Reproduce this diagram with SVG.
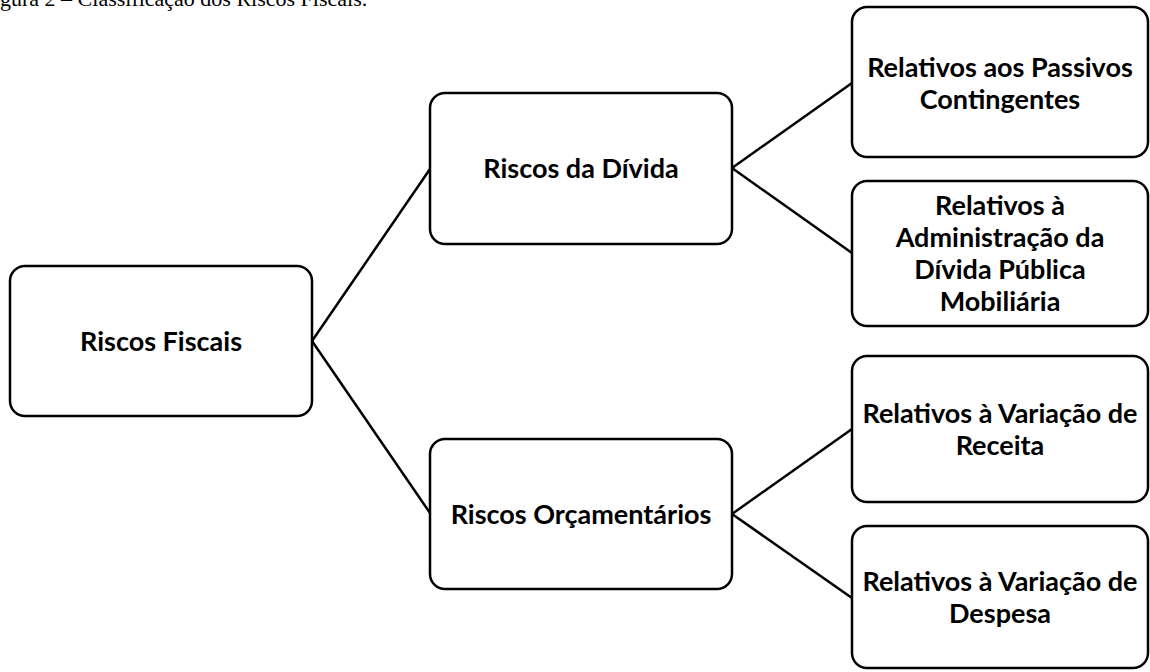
<svg xmlns="http://www.w3.org/2000/svg" width="1150" height="672" viewBox="0 0 1150 672">
<style>
.box{fill:#fff;stroke:#000;stroke-width:2.5}
.lbl{font-family:Lato,"Liberation Sans",sans-serif;font-weight:bold;font-size:27px;fill:#000;text-anchor:middle}
.cap{font-family:"Liberation Serif",serif;font-size:22px;fill:#000}
.con{fill:none;stroke:#000;stroke-width:2.5}
</style>
<rect width="1150" height="672" fill="#fff"/>
<text class="cap" x="0" y="5.5">gura 2 – Classificação dos Riscos Fiscais.</text>
<g id="connectors">
<line class="con" x1="312" y1="341" x2="430" y2="169"/>
<line class="con" x1="312" y1="341" x2="430" y2="513"/>
<line class="con" x1="732" y1="168" x2="852" y2="83"/>
<line class="con" x1="732" y1="168" x2="852" y2="253"/>
<line class="con" x1="732" y1="514" x2="852" y2="429"/>
<line class="con" x1="732" y1="514" x2="852" y2="598"/>
</g>
<g id="riscos-fiscais">
<rect class="box" x="10" y="266" width="302" height="150" rx="15"/>
<text class="lbl" x="161" y="351">Riscos Fiscais</text>
</g>
<g id="riscos-divida">
<rect class="box" x="430" y="93" width="302" height="151" rx="15"/>
<text class="lbl" x="581" y="178">Riscos da Dívida</text>
</g>
<g id="riscos-orcamentarios">
<rect class="box" x="430" y="439" width="302" height="150" rx="15"/>
<text class="lbl" x="581" y="524">Riscos Orçamentários</text>
</g>
<g id="passivos">
<rect class="box" x="852" y="7" width="296" height="150" rx="15"/>
<text class="lbl" x="1000" y="77">Relativos aos Passivos</text>
<text class="lbl" x="1000" y="109">Contingentes</text>
</g>
<g id="administracao">
<rect class="box" x="852" y="181" width="296" height="145" rx="15"/>
<text class="lbl" x="1000" y="215">Relativos à</text>
<text class="lbl" x="1000" y="247">Administração da</text>
<text class="lbl" x="1000" y="279">Dívida Pública</text>
<text class="lbl" x="1000" y="311">Mobiliária</text>
</g>
<g id="receita">
<rect class="box" x="852" y="356" width="296" height="146" rx="15"/>
<text class="lbl" x="1000" y="423">Relativos à Variação de</text>
<text class="lbl" x="1000" y="455">Receita</text>
</g>
<g id="despesa">
<rect class="box" x="852" y="526" width="296" height="142" rx="15"/>
<text class="lbl" x="1000" y="591">Relativos à Variação de</text>
<text class="lbl" x="1000" y="623">Despesa</text>
</g>
</svg>
